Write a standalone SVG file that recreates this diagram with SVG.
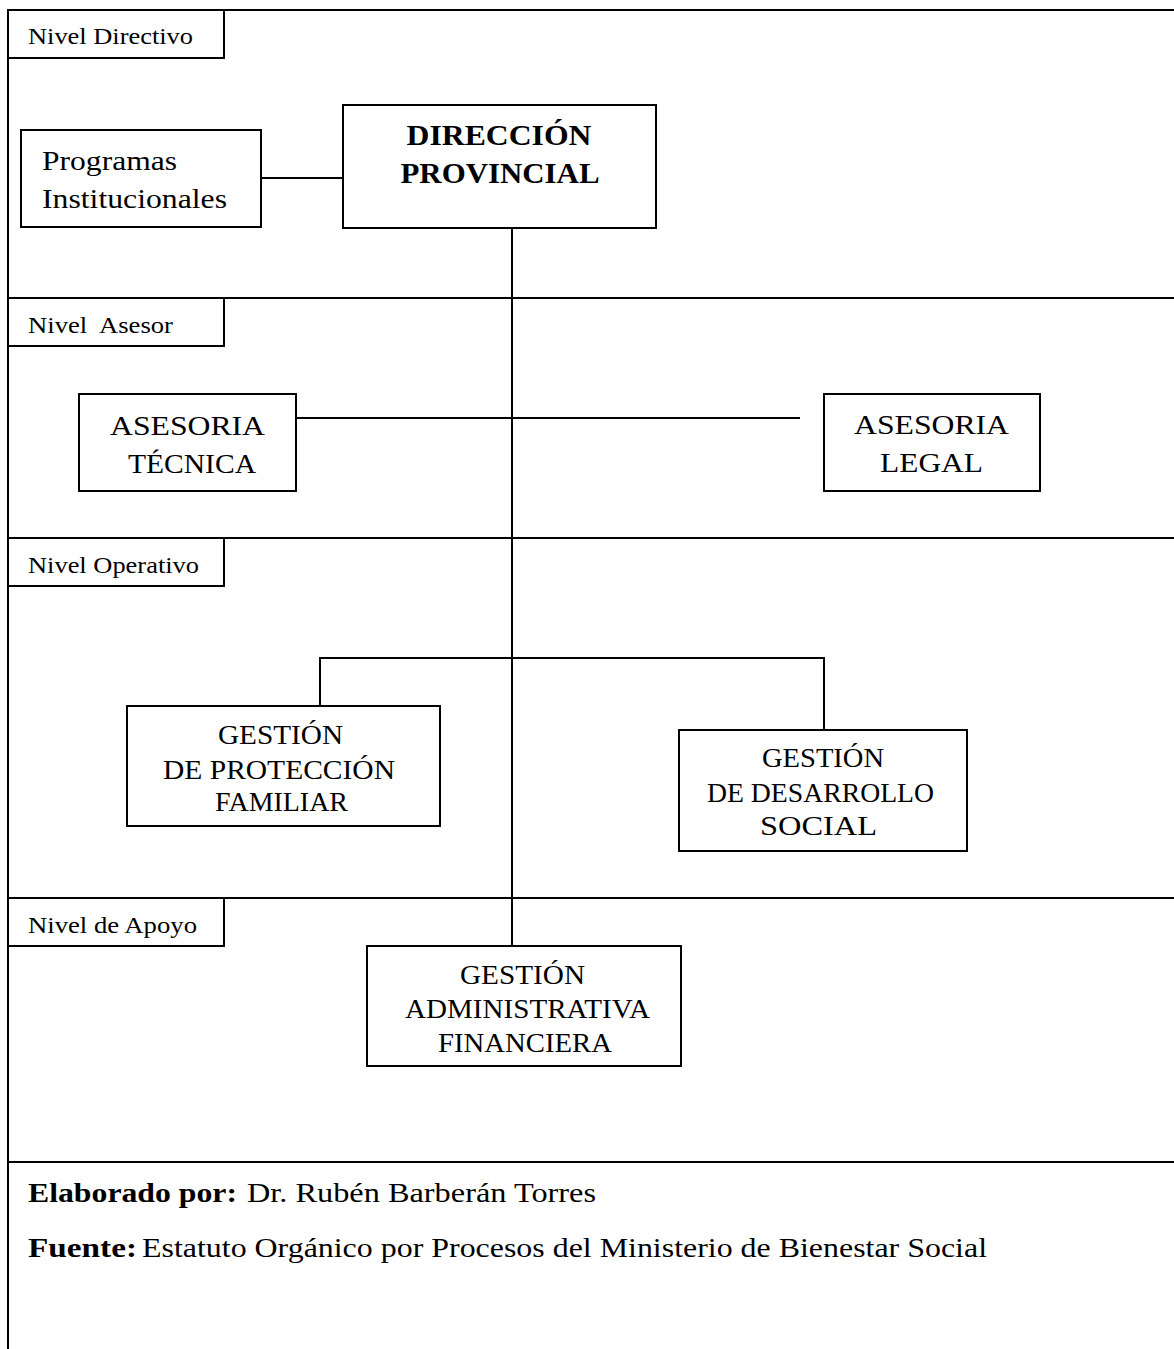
<svg xmlns="http://www.w3.org/2000/svg" width="1174" height="1349" viewBox="0 0 1174 1349">
<style>
.frame{stroke:#000;stroke-width:2;fill:none}
.box{stroke:#000;stroke-width:2;fill:#fff}
.conn{stroke:#000;stroke-width:2;fill:none}
text{font-family:'Liberation Serif',serif;fill:#000}
.lbl{font-size:23.5px}
.n{font-size:28px;text-anchor:middle}
.nb{font-size:28.5px;font-weight:bold;text-anchor:middle}
.ft{font-size:27px}
.b{font-weight:bold}
</style>
<rect x="0" y="0" width="1174" height="1349" fill="#fff"/>
<g id="frame">
<path class="frame" d="M8,1349 V10 H1174 M8,298 H1174 M8,538 H1174 M8,898 H1174 M8,1162 H1174"/>
</g>
<g id="level-directivo">
<rect class="box" x="8" y="10" width="216" height="48"/>
<text class="lbl" x="28" y="44" textLength="165" lengthAdjust="spacingAndGlyphs">Nivel Directivo</text>
</g>
<g id="level-asesor">
<rect class="box" x="8" y="298" width="216" height="48"/>
<text class="lbl" x="28" y="333" textLength="145" lengthAdjust="spacingAndGlyphs" xml:space="preserve">Nivel  Asesor</text>
</g>
<g id="level-operativo">
<rect class="box" x="8" y="538" width="216" height="48"/>
<text class="lbl" x="28" y="573" textLength="171" lengthAdjust="spacingAndGlyphs">Nivel Operativo</text>
</g>
<g id="level-apoyo">
<rect class="box" x="8" y="898" width="216" height="48"/>
<text class="lbl" x="28" y="933" textLength="169" lengthAdjust="spacingAndGlyphs">Nivel de Apoyo</text>
</g>
<g id="connectors">
<path class="conn" d="M261,178 H343"/>
<path class="conn" d="M512,228 V946"/>
<path class="conn" d="M296,418 H800"/>
<path class="conn" d="M320,706 V658 H824 V730"/>
</g>
<g id="programas">
<rect class="box" x="21" y="130" width="240" height="97"/>
<text x="42" y="170" font-size="28" textLength="135" lengthAdjust="spacingAndGlyphs">Programas</text>
<text x="42" y="208" font-size="28" textLength="185" lengthAdjust="spacingAndGlyphs">Institucionales</text>
</g>
<g id="direccion">
<rect class="box" x="343" y="105" width="313" height="123"/>
<text class="nb" x="499" y="145" textLength="185" lengthAdjust="spacingAndGlyphs">DIRECCIÓN</text>
<text class="nb" x="500" y="183" textLength="199" lengthAdjust="spacingAndGlyphs">PROVINCIAL</text>
</g>
<g id="asesoria-tecnica">
<rect class="box" x="79" y="394" width="217" height="97"/>
<text class="n" x="187.5" y="435" textLength="155" lengthAdjust="spacingAndGlyphs">ASESORIA</text>
<text class="n" x="192" y="473" textLength="128" lengthAdjust="spacingAndGlyphs">TÉCNICA</text>
</g>
<g id="asesoria-legal">
<rect class="box" x="824" y="394" width="216" height="97"/>
<text class="n" x="931.5" y="434" textLength="155" lengthAdjust="spacingAndGlyphs">ASESORIA</text>
<text class="n" x="931.5" y="472" textLength="103" lengthAdjust="spacingAndGlyphs">LEGAL</text>
</g>
<g id="gestion-proteccion">
<rect class="box" x="127" y="706" width="313" height="120"/>
<text class="n" x="280.5" y="744" textLength="125" lengthAdjust="spacingAndGlyphs">GESTIÓN</text>
<text class="n" x="279" y="779" textLength="232" lengthAdjust="spacingAndGlyphs">DE PROTECCIÓN</text>
<text class="n" x="281.5" y="811" textLength="133" lengthAdjust="spacingAndGlyphs">FAMILIAR</text>
</g>
<g id="gestion-desarrollo">
<rect class="box" x="679" y="730" width="288" height="121"/>
<text class="n" x="823" y="767" textLength="122" lengthAdjust="spacingAndGlyphs">GESTIÓN</text>
<text class="n" x="820.5" y="802" textLength="227" lengthAdjust="spacingAndGlyphs">DE DESARROLLO</text>
<text class="n" x="818.5" y="835" textLength="117" lengthAdjust="spacingAndGlyphs">SOCIAL</text>
</g>
<g id="gestion-administrativa">
<rect class="box" x="367" y="946" width="314" height="120"/>
<text class="n" x="522.5" y="984" textLength="125" lengthAdjust="spacingAndGlyphs">GESTIÓN</text>
<text class="n" x="527.5" y="1018" textLength="245" lengthAdjust="spacingAndGlyphs">ADMINISTRATIVA</text>
<text class="n" x="525" y="1052" textLength="174" lengthAdjust="spacingAndGlyphs">FINANCIERA</text>
</g>
<g id="footer">
<text class="ft b" x="28" y="1202" textLength="209" lengthAdjust="spacingAndGlyphs">Elaborado por:</text>
<text class="ft" x="247" y="1202" textLength="349" lengthAdjust="spacingAndGlyphs">Dr. Rubén Barberán Torres</text>
<text class="ft b" x="28" y="1257" textLength="109" lengthAdjust="spacingAndGlyphs">Fuente:</text>
<text class="ft" x="142" y="1257" textLength="845" lengthAdjust="spacingAndGlyphs">Estatuto Orgánico por Procesos del Ministerio de Bienestar Social</text>
</g>
</svg>
